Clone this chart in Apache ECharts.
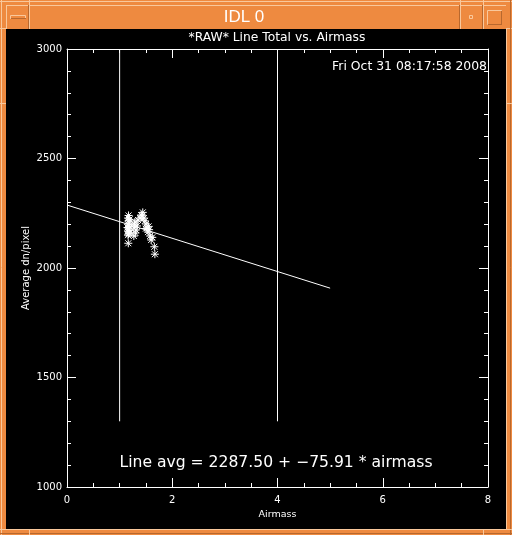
<!DOCTYPE html>
<html><head><meta charset="utf-8">
<script src="https://cdn.jsdelivr.net/npm/echarts@6/dist/echarts.min.js"></script>
<style>html,body{margin:0;padding:0;background:#EE8A40;}#c{width:512px;height:535px;}</style>
</head><body><div id="c"></div>
<script>
// ---- data ----
var windowTitle = 'IDL 0';
var plotTitle = '*RAW* Line Total vs. Airmass';
var dateText = 'Fri Oct 31 08:17:58 2008';
var fitText = 'Line avg = 2287.50 + \u221275.91 * airmass';
var xName = 'Airmass';
var yName = 'Average dn/pixel';
var airmass = [1.16,1.17,1.16,1.18,1.17,1.16,1.18,1.17,1.19,1.18,1.15,1.19,1.17,1.16,
               1.165,
               1.27,1.27,1.29,1.31,1.33,1.35,1.30,1.28,
               1.39,1.41,1.44,1.43,1.46,1.48,1.50,1.52,1.54,1.56,1.58,1.60,1.62,1.55,1.50,
               1.66,1.67];
var lineAvg = [2228,2215,2200,2190,2178,2168,2160,2155,2222,2205,2185,2170,2240,2150,
               2113,
               2146,2183,2210,2174,2192,2219,2160,2200,
               2228,2242,2254,2238,2228,2215,2201,2183,2164,2175,2146,2128,2140,2190,2180,
               2097,2063];
var fitIntercept = 2287.50;
var fitSlope = -75.91;
var fitRange = [0, 5];
var markerX = [1, 4];
var markerY = [1300, 3000];
var xTicks = {min: 0, max: 8, interval: 2};
var yTicks = {min: 1000, max: 3000, interval: 500};

var scatterData = airmass.map(function(a, i){ return [a, lineAvg[i]]; });
var fitData = fitRange.map(function(x){ return [x, fitIntercept + fitSlope * x]; });
var markerSeries = markerX.map(function(x){
  return {type:'line', data: markerY.map(function(y){return [x,y];}), symbol:'none', silent:true,
          lineStyle:{color:'#fff', width:1}, z:3};
});

var W = '#ffffff', OR = '#EE8A40', LT = '#F9C89C', DK = '#B8682E';
var FONT = 'DejaVu Sans';

function axisBase(pos, showLabel){
  return {
    type:'value', position: pos,
    axisLine:{show:true, onZero:false, lineStyle:{color:W, width:1}},
    axisTick:{show:true, inside:true, length:9, lineStyle:{color:W, width:1}},
    minorTick:{show:true, length:4, lineStyle:{color:W, width:1}},
    splitLine:{show:false}, minorSplitLine:{show:false},
    axisLabel:{show:showLabel, color:W, fontSize:10, fontFamily:FONT,
               formatter:function(v){return String(v);}}
  };
}
var xb = axisBase('bottom', true);
Object.assign(xb, xTicks, {name:xName, nameLocation:'middle', nameGap:21,
  nameTextStyle:{color:W, fontSize:9.5, fontFamily:FONT}});
xb.axisLabel.margin = 8; xb.minorTick.splitNumber = 4;
var xt = axisBase('top', false); Object.assign(xt, xTicks); xt.minorTick.splitNumber = 4;
var yl = axisBase('left', true);
Object.assign(yl, yTicks, {name:yName, nameLocation:'middle', nameGap:36, nameMoveOverlap:false,
  nameTextStyle:{color:W, fontSize:10, fontFamily:FONT}});
yl.axisLabel.margin = 5; yl.minorTick.splitNumber = 5;
var yr = axisBase('right', false); Object.assign(yr, yTicks); yr.minorTick.splitNumber = 5;

var chart = echarts.init(document.getElementById('c'), null, {renderer:'canvas'});
chart.setOption({
  backgroundColor: OR,
  animation:false,
  grid:{left:67, top:49, right:24, bottom:48, show:false},
  xAxis:[xb, xt],
  yAxis:[yl, yr],
  graphic:[
    {type:'rect', shape:{x:6,y:29,width:500,height:500}, style:{fill:'#000'}, z:-10, silent:true},
    // frame bevels
    {type:'line', shape:{x1:0,y1:1.5,x2:512,y2:1.5}, style:{stroke:LT,lineWidth:1}, z:-9},
    {type:'line', shape:{x1:1.5,y1:0,x2:1.5,y2:535}, style:{stroke:LT,lineWidth:1}, z:-9},
    {type:'line', shape:{x1:6,y1:5.5,x2:506,y2:5.5}, style:{stroke:LT,lineWidth:1}, z:-9},
    {type:'line', shape:{x1:6.5,y1:5,x2:6.5,y2:29}, style:{stroke:LT,lineWidth:1}, z:-9},
    {type:'line', shape:{x1:0,y1:28.5,x2:6,y2:28.5}, style:{stroke:LT,lineWidth:1}, z:-9},
    {type:'line', shape:{x1:506,y1:28.5,x2:512,y2:28.5}, style:{stroke:LT,lineWidth:1}, z:-9},
    {type:'line', shape:{x1:29.5,y1:0,x2:29.5,y2:29}, style:{stroke:LT,lineWidth:1}, z:-9},
    {type:'line', shape:{x1:28.5,y1:5,x2:28.5,y2:29}, style:{stroke:DK,lineWidth:1}, z:-9},
    {type:'line', shape:{x1:460.5,y1:0,x2:460.5,y2:29}, style:{stroke:LT,lineWidth:1}, z:-9},
    {type:'line', shape:{x1:459.5,y1:5,x2:459.5,y2:29}, style:{stroke:DK,lineWidth:1}, z:-9},
    {type:'line', shape:{x1:483.5,y1:0,x2:483.5,y2:29}, style:{stroke:LT,lineWidth:1}, z:-9},
    {type:'line', shape:{x1:482.5,y1:5,x2:482.5,y2:29}, style:{stroke:DK,lineWidth:1}, z:-9},
    {type:'line', shape:{x1:506.5,y1:29,x2:506.5,y2:529}, style:{stroke:LT,lineWidth:1}, z:-9},
    {type:'line', shape:{x1:510.5,y1:0,x2:510.5,y2:535}, style:{stroke:DK,lineWidth:1}, z:-9},
    {type:'line', shape:{x1:0,y1:529.5,x2:512,y2:529.5}, style:{stroke:LT,lineWidth:1}, z:-9},
    {type:'line', shape:{x1:0,y1:533.5,x2:512,y2:533.5}, style:{stroke:DK,lineWidth:1}, z:-9},
    {type:'line', shape:{x1:29.5,y1:529,x2:29.5,y2:535}, style:{stroke:LT,lineWidth:1}, z:-9},
    {type:'line', shape:{x1:483.5,y1:529,x2:483.5,y2:535}, style:{stroke:LT,lineWidth:1}, z:-9},
    {type:'line', shape:{x1:0,y1:103.5,x2:6,y2:103.5}, style:{stroke:LT,lineWidth:1}, z:-9},
    {type:'line', shape:{x1:506,y1:103.5,x2:512,y2:103.5}, style:{stroke:LT,lineWidth:1}, z:-9},
    // buttons
    {type:'rect', shape:{x:10.5,y:15.5,width:15,height:3}, style:{fill:OR, stroke:LT, lineWidth:1}, z:-8},
    {type:'line', shape:{x1:11,y1:18.5,x2:26,y2:18.5}, style:{stroke:DK,lineWidth:1}, z:-7},
    {type:'rect', shape:{x:469.5,y:15.5,width:3,height:3}, style:{fill:OR, stroke:LT, lineWidth:1}, z:-8},
    {type:'rect', shape:{x:487.5,y:10.5,width:14,height:14}, style:{fill:OR, stroke:LT, lineWidth:1}, z:-8},
    {type:'line', shape:{x1:488,y1:24.5,x2:502,y2:24.5}, style:{stroke:DK,lineWidth:1}, z:-7},
    {type:'line', shape:{x1:501.5,y1:11,x2:501.5,y2:25}, style:{stroke:DK,lineWidth:1}, z:-7},
    // texts
    {type:'text', x:244, y:17, style:{text:windowTitle, fill:W, font:'17px "Liberation Sans"', textAlign:'center', textVerticalAlign:'middle'}, z:10},
    {type:'text', x:277, y:38, style:{text:plotTitle, fill:W, font:'12.3px "DejaVu Sans"', textAlign:'center', textVerticalAlign:'middle'}, z:10},
    {type:'text', x:487, y:67, style:{text:dateText, fill:W, font:'12.4px "DejaVu Sans"', textAlign:'right', textVerticalAlign:'middle'}, z:10},
    {type:'text', x:276, y:463, style:{text:fitText, fill:W, font:'15.6px "DejaVu Sans"', textAlign:'center', textVerticalAlign:'middle'}, z:10}
  ],
  series: markerSeries.concat([
    {type:'line', data: fitData, symbol:'none', silent:true, lineStyle:{color:W, width:1}, z:3},
    {type:'scatter', data: scatterData, symbol:'path://M0,4L8,4M4,0L4,8M1,1L7,7M1,7L7,1', symbolSize:8,
     itemStyle:{color:'rgba(0,0,0,0)', borderColor:W, borderWidth:1, opacity:1}, z:4, silent:true}
  ])
});
</script></body></html>
